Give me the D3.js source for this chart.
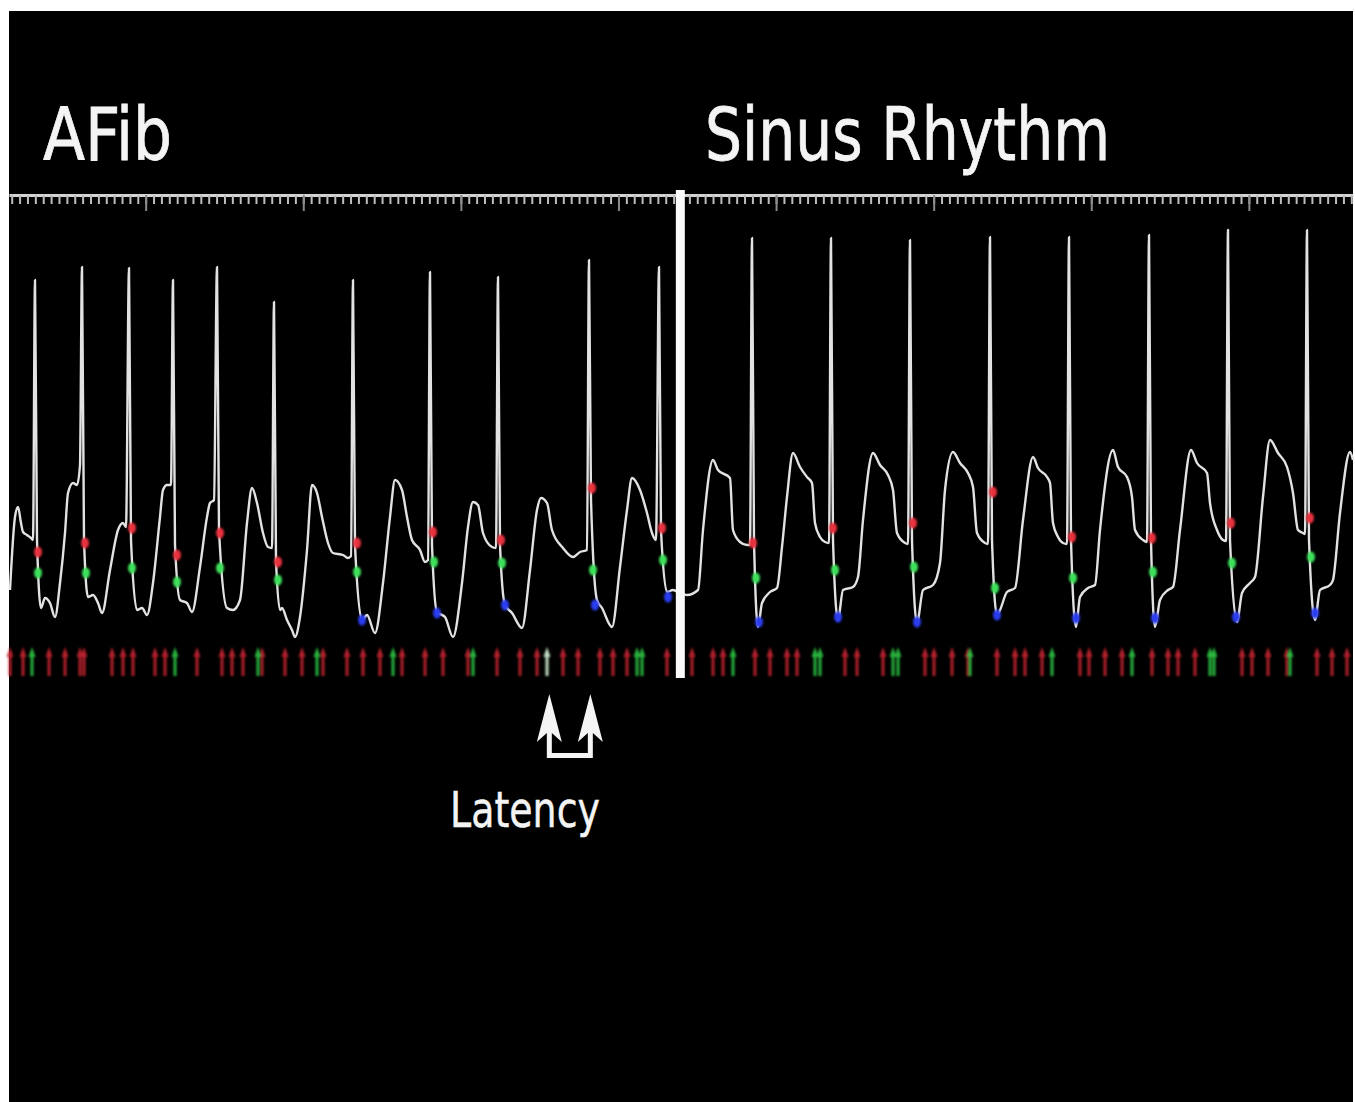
<!DOCTYPE html>
<html>
<head>
<meta charset="utf-8">
<script src="https://cdn.jsdelivr.net/npm/d3@7"></script>
<style>
  body { margin: 0; background: #fff; }
</style>
</head>
<body>
<div id="ecg-chart"></div>
<script>
// -------------------------------------------------------------------------
// AFib -> Sinus Rhythm trace with detection markers and event arrows
// time in ms, amplitude in microvolts
// -------------------------------------------------------------------------

// Section titles
const sectionTitles = ["AFib", "Sinus Rhythm"];
const latencyLabel = "Latency";

// Time (ms) where the rhythm changes
const sectionBoundary = 2014;

// Ruler: first long tick and spacing of the small ticks (ms)
const rulerFirstMajor = 410;
const rulerStep = 23.64;
const rulerMinorPerMajor = 20;

// Trace points [ms, µV] - AFib part
const afibTrace = [
    [3,600],[18,1330],[27,1430],[36,1270],[42,1180],[54,1150],[66,1120],[72,1100],
    [78,3700],[84,1100],[96,420],[108,520],[123,470],[138,330],[153,670],[168,1170],[177,1570],[192,1670],[204,1650],[213,1850],
    [219,3830],[225,1100],[237,530],[252,550],[267,470],[279,370],[303,800],[327,1200],[342,1270],[351,1230],
    [360,3820],[366,1100],[384,400],[399,420],[414,350],[432,670],[453,1330],[462,1600],[474,1650],[486,1650],
    [492,3700],[498,1050],[513,500],[534,470],[549,380],[573,830],[594,1330],[603,1470],[615,1500],
    [624,3830],[630,1200],[654,420],[672,400],[693,500],[714,1270],[729,1620],[744,1470],[762,1170],[777,1030],[789,1020],
    [795,3480],[801,900],[813,400],[819,420],[834,300],[849,200],[858,130],[873,330],[894,1000],[909,1650],[924,1570],[939,1330],[957,1070],[972,970],[1002,950],[1017,920],[1026,940],
    [1032,3700],[1038,1050],[1059,300],[1074,350],[1098,170],[1122,670],[1143,1330],[1158,1700],[1179,1600],[1194,1330],[1209,1100],[1233,1000],[1248,880],[1257,900],
    [1263,3780],[1269,1050],[1284,380],[1308,330],[1332,130],[1359,670],[1377,1230],[1392,1480],[1407,1450],[1422,1170],[1449,1030],[1461,1020],
    [1467,3730],[1473,1050],[1488,450],[1509,370],[1539,220],[1563,800],[1584,1400],[1596,1520],[1614,1470],[1629,1200],[1662,1020],[1692,930],[1713,980],[1734,1000],
    [1740,3900],[1746,1500],[1764,500],[1779,420],[1809,230],[1833,830],[1854,1400],[1869,1720],[1893,1600],[1914,1370],[1929,1170],[1941,1100],
    [1950,3830],[1956,1200],[1974,580],[1992,600],[2013,570]
];

// Trace points [ms, µV] - Sinus part
const sinusTrace = [
    [2034,550],[2067,600],[2082,1200],[2112,1900],[2127,1800],[2163,1720],[2172,1200],[2193,1080],[2214,1050],[2223,1050],
    [2229,4120],[2235,1100],[2247,230],[2259,470],[2283,580],[2304,620],[2319,1030],[2334,1530],[2352,1970],[2373,1830],[2394,1730],[2409,1670],[2418,1270],[2433,1130],[2448,1080],[2460,1070],
    [2466,4120],[2472,1100],[2487,300],[2502,600],[2532,630],[2547,730],[2562,1300],[2592,1970],[2613,1850],[2637,1750],[2652,1600],[2664,1170],[2688,1070],[2697,1060],
    [2703,4100],[2709,1100],[2724,270],[2742,600],[2772,650],[2793,870],[2808,1600],[2832,1980],[2853,1870],[2877,1770],[2892,1630],[2904,1170],[2928,1070],[2937,1060],
    [2943,4130],[2949,1100],[2964,350],[2973,400],[2994,580],[3018,620],[3042,1300],[3072,1930],[3087,1820],[3114,1730],[3123,1670],[3132,1270],[3147,1130],[3162,1070],[3174,1060],
    [3180,4130],[3186,1100],[3201,230],[3213,530],[3237,620],[3258,650],[3273,1200],[3312,2000],[3327,1830],[3354,1730],[3369,1530],[3378,1200],[3402,1100],[3414,1080],
    [3420,4150],[3426,1100],[3438,230],[3453,500],[3477,600],[3492,630],[3513,1200],[3546,2000],[3564,1870],[3594,1770],[3603,1470],[3624,1200],[3642,1100],[3651,1090],
    [3657,4200],[3663,1100],[3684,280],[3699,570],[3723,670],[3738,730],[3762,1530],[3783,2100],[3807,1970],[3834,1830],[3852,1570],[3867,1200],[3882,1170],[3888,1160],
    [3894,4200],[3900,1100],[3918,300],[3933,600],[3963,650],[3972,700],[3993,1370],[4023,1980],[4032,1900]
];

// Detection dots on each beat [ms, µV]
const redMarks = [
    [87,980],[228,1070],[369,1220],[504,950],[633,1170],[807,880],[1044,1070],[1272,1180],[1476,1100],[1749,1620],[1959,1220],
    [2232,1070],[2472,1220],[2712,1270],[2952,1580],[3189,1130],[3429,1120],[3666,1270],[3903,1320]
];
const greenMarks = [
    [87,770],[231,770],[369,820],[504,680],[633,820],[807,700],[1044,780],[1275,880],[1479,870],[1752,800],[1962,900],
    [2241,720],[2478,800],[2715,830],[2958,620],[3192,720],[3432,780],[3669,870],[3906,930]
];
const blueMarks = [
    [1059,300],[1284,370],[1488,450],[1758,450],[1977,530],
    [2250,280],[2487,330],[2724,280],[2964,350],[3201,320],[3438,320],[3681,330],[3918,370]
];

// Event arrows along the bottom row (ms)
const redEvents = [
    3,42,120,168,213,225,309,342,372,438,468,564,639,669,702,759,828,879,942,1014,1062,1113,1179,1248,1302,
    1377,1464,1533,1584,1662,1707,1773,1812,1854,1974,2049,2112,2142,2238,2283,2334,2364,2508,2544,2622,
    2748,2775,2829,2877,2964,3018,3048,3099,3213,3240,3288,3339,3429,3477,3507,3558,3699,3729,3777,3834,3924,3969,4014
];
const greenEvents = [
    69,498,747,924,1152,1392,1884,1899,2172,2418,2433,2652,2667,2883,3129,3369,3603,3615,3843
];
const highlightedEvents = [1614];

// The two events the latency bracket joins (ms)
const latencyPair = [1621, 1744];

// -------------------------------------------------------------------------

const id_ref = "#ecg-chart";
const W = 1355, H = 1102;
const panel = {left: 9, top: 11, right: 1353, bottom: 1102};

const svg = d3.select(id_ref)
    .append("svg")
        .attr("width", W)
        .attr("height", H);

// Black panel
svg.append("rect")
    .attr("x", panel.left)
    .attr("y", panel.top)
    .attr("width", panel.right - panel.left)
    .attr("height", panel.bottom - panel.top)
    .attr("fill", "#000");

// Soft glow for the small marks
const defs = svg.append("defs");
defs.append("filter")
    .attr("id", "soft")
    .attr("x", "-50%").attr("y", "-50%").attr("width", "200%").attr("height", "200%")
    .append("feGaussianBlur")
        .attr("stdDeviation", 1.0);
defs.append("filter")
    .attr("id", "softer")
    .append("feGaussianBlur")
        .attr("stdDeviation", 0.45);

// Scales
const x = d3.scaleLinear()
    .domain([0, 4032])
    .range([panel.left, panel.right]);
const y = d3.scaleLinear()
    .domain([0, 4000])
    .range([650, 250]);

// Titles
const titleX = [43, 705];
const titleLen = [129, 405];
svg.selectAll(".title")
    .data(sectionTitles)
    .join("text")
        .attr("class", "title")
        .attr("x", (d, i) => titleX[i])
        .attr("y", 160)
        .attr("textLength", (d, i) => titleLen[i])
        .attr("lengthAdjust", "spacingAndGlyphs")
        .style("font-family", "'DejaVu Sans', Verdana, sans-serif")
        .style("font-size", "73px")
        .attr("fill", "#f4f4f4")
        .attr("stroke", "#f4f4f4")
        .attr("stroke-width", 0.8)
        .text(d => d);

// Ruler
const rulerY = 195;
const rulerStart = rulerFirstMajor - 17 * rulerStep;
const rulerTicks = d3.range(rulerStart, 4032, rulerStep);
const majorTicks = rulerTicks.filter((d, i) => (i - 17) % rulerMinorPerMajor === 0);

svg.append("g")
    .attr("transform", `translate(0,${rulerY})`)
    .attr("filter", "url(#softer)")
    .call(d3.axisBottom(x).tickValues(rulerTicks).tickSize(9).tickSizeOuter(0).tickFormat(""))
    .call(g => g.select(".domain").attr("stroke", "#d4d4d4").attr("stroke-width", 3))
    .call(g => g.selectAll(".tick line").attr("stroke", "#bdbdbd").attr("stroke-width", 2));

svg.append("g")
    .attr("transform", `translate(0,${rulerY})`)
    .attr("filter", "url(#softer)")
    .call(d3.axisBottom(x).tickValues(majorTicks).tickSize(16).tickFormat(""))
    .call(g => g.select(".domain").remove())
    .call(g => g.selectAll(".tick line").attr("stroke", "#8a8a8a").attr("stroke-width", 2));

// Trace
const line = d3.line()
    .x(d => x(d[0]))
    .y(d => y(d[1]))
    .curve(d3.curveMonotoneX);

svg.append("path")
    .datum(afibTrace.concat(sinusTrace))
    .attr("fill", "none")
    .attr("stroke", "#e2e2e2")
    .attr("stroke-width", 2.4)
    .attr("stroke-linejoin", "round")
    .attr("filter", "url(#softer)")
    .attr("d", line);

// Detection dots
const dotGroups = [
    {data: redMarks, color: "#e8303c"},
    {data: greenMarks, color: "#3ee05a"},
    {data: blueMarks, color: "#2a3cf0"}
];
dotGroups.forEach(g => {
    svg.append("g")
        .attr("filter", "url(#soft)")
        .selectAll("ellipse")
        .data(g.data)
        .join("ellipse")
            .attr("cx", d => x(d[0]))
            .attr("cy", d => y(d[1]))
            .attr("rx", 4)
            .attr("ry", 5.5)
            .attr("fill", g.color);
});

// Event arrows
const rowY = 661;
const smallArrow = "M0,-14 L3.5,-4 L1.5,-4 L1.5,15 L-1.5,15 L-1.5,-4 L-3.5,-4 Z";
const eventGroups = [
    {data: redEvents, color: "#c42430"},
    {data: greenEvents, color: "#2fc443"},
    {data: highlightedEvents, color: "#d6f5d6"}
];
eventGroups.forEach(g => {
    svg.append("g")
        .attr("filter", "url(#soft)")
        .selectAll("path")
        .data(g.data)
        .join("path")
            .attr("transform", d => `translate(${x(d)},${rowY})`)
            .attr("d", smallArrow)
            .attr("fill", g.color)
            .attr("opacity", 0.9);
});

// Rhythm change bar
svg.append("rect")
    .attr("x", x(sectionBoundary) - 4.5)
    .attr("y", 190)
    .attr("width", 9)
    .attr("height", 488)
    .attr("fill", "#fafafa");

// Latency annotation
const headTop = 694;
svg.append("path")
    .attr("d", `M${x(latencyPair[0])},732 L${x(latencyPair[0])},755.5 L${x(latencyPair[1])},755.5 L${x(latencyPair[1])},732`)
    .attr("fill", "none")
    .attr("stroke", "#f4f4f4")
    .attr("stroke-width", 5);

svg.selectAll(".lat-head")
    .data(latencyPair)
    .join("path")
        .attr("class", "lat-head")
        .attr("transform", d => `translate(${x(d)},${headTop})`)
        .attr("d", "M0,0 L12.5,48 L2.5,39 L-2.5,39 L-12.5,48 Z")
        .attr("fill", "#f4f4f4");

svg.append("text")
    .attr("x", 450)
    .attr("y", 827)
    .attr("textLength", 150)
    .attr("lengthAdjust", "spacingAndGlyphs")
    .style("font-family", "'DejaVu Sans', Verdana, sans-serif")
    .style("font-size", "50px")
    .attr("fill", "#f4f4f4")
    .attr("stroke", "#f4f4f4")
    .attr("stroke-width", 0.5)
    .text(latencyLabel);
</script>
</body>
</html>
